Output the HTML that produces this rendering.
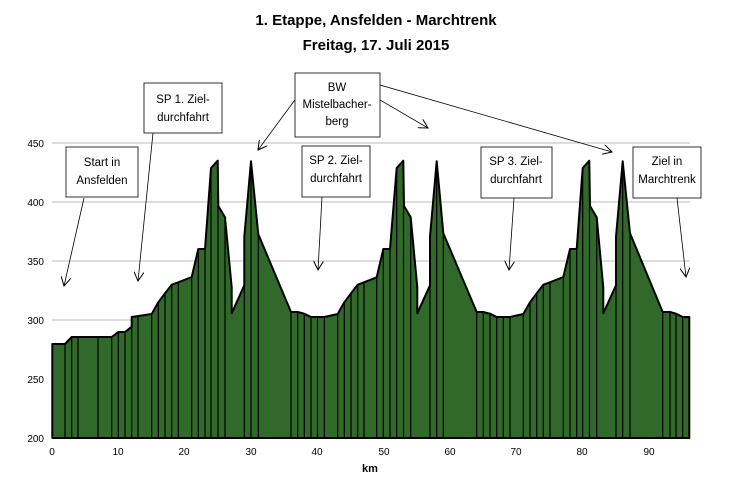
<!DOCTYPE html>
<html><head><meta charset="utf-8"><style>body{margin:0;background:#fff}svg{display:block}</style></head><body>
<svg width="752" height="481" viewBox="0 0 752 481" font-family="Liberation Sans, sans-serif">
<defs><marker id="a" markerWidth="10" markerHeight="10" refX="9" refY="5" orient="auto" markerUnits="userSpaceOnUse"><path d="M0,0 L9,5 L0,10" fill="none" stroke="#000" stroke-width="1"/></marker></defs>
<text x="376" y="25" font-size="15" font-weight="bold" text-anchor="middle">1. Etappe, Ansfelden - Marchtrenk</text>
<text x="376" y="50" font-size="15" font-weight="bold" text-anchor="middle">Freitag, 17. Juli 2015</text>
<g stroke="#bbb" stroke-width="1">
<line x1="52" y1="143" x2="690" y2="143"/><line x1="52" y1="202" x2="690" y2="202"/><line x1="52" y1="261" x2="690" y2="261"/><line x1="52" y1="320" x2="690" y2="320"/><line x1="52" y1="379" x2="690" y2="379"/>
</g>
<g font-size="10" text-anchor="end">
<text x="44" y="147">450</text><text x="44" y="206">400</text><text x="44" y="265">350</text><text x="44" y="324">300</text><text x="44" y="383">250</text><text x="44" y="442">200</text>
</g>
<g font-size="10" text-anchor="middle">
<text x="52" y="455">0</text><text x="118" y="455">10</text><text x="184" y="455">20</text><text x="251" y="455">30</text><text x="317" y="455">40</text><text x="384" y="455">50</text><text x="450" y="455">60</text><text x="516" y="455">70</text><text x="582" y="455">80</text><text x="649" y="455">90</text>
</g>
<text x="370" y="472" font-size="11" font-weight="bold" text-anchor="middle">km</text>
<path id="p" d="M52.3,438 L52.3,344 L65,344 L71.7,337 L111.7,337 L118.3,332 L125,332 L131.7,326.7 L131.7,317 L151.7,314 L158.3,302.3 L165,293.3 L171.7,284.7 L178.3,282.3 L191.7,277 L198.3,249 L205,249 L211,168 L217.7,160.7 L218.3,206 L225,217.3 L231.7,287.3 L231.7,313.3 L244.3,285.3 L244.3,236.7 L251,161.3 L258.3,234.3 L291,312 L297.7,312 L304.3,313.7 L311,317 L324.3,317 L337.7,314 L344.3,302.3 L351,293.3 L357.7,284.7 L364,282.3 L376.7,277.3 L383.3,249 L390,249 L396.7,168 L403.3,160.7 L404,206 L410.7,217.3 L417.3,287.3 L417.3,313.3 L430,285.3 L430,236.7 L436.7,161.3 L443.3,233.3 L476.7,312 L483.3,312 L490,313.7 L496.7,317 L510,317 L523.3,314 L530,302.3 L536.7,293.3 L543.3,284.7 L550,282.3 L563.3,277 L570,249 L576.7,249 L582.7,168 L589.3,160.7 L590,206 L596.7,217.3 L603.3,287.3 L603.3,313.3 L616,285.3 L616,236.7 L622.7,161.3 L630,233.3 L662.7,312 L670,312 L676,313.7 L682.7,317 L689.3,317 L689.3,438 Z" fill="#30692a" stroke="#000" stroke-width="2" stroke-linejoin="round"/>
<g stroke="#000" stroke-width="1.2">
<line x1="65" y1="344" x2="65" y2="438"/><line x1="71.7" y1="337" x2="71.7" y2="438"/><line x1="78" y1="337" x2="78" y2="438"/><line x1="98" y1="337" x2="98" y2="438"/><line x1="111.7" y1="337" x2="111.7" y2="438"/><line x1="118.3" y1="332" x2="118.3" y2="438"/><line x1="125" y1="332" x2="125" y2="438"/><line x1="131.7" y1="327" x2="131.7" y2="438"/><line x1="138" y1="316" x2="138" y2="438"/><line x1="151.7" y1="314" x2="151.7" y2="438"/><line x1="158.3" y1="302" x2="158.3" y2="438"/><line x1="165" y1="293" x2="165" y2="438"/><line x1="171.7" y1="285" x2="171.7" y2="438"/><line x1="178.3" y1="282" x2="178.3" y2="438"/><line x1="191.7" y1="277" x2="191.7" y2="438"/><line x1="198.3" y1="249" x2="198.3" y2="438"/><line x1="205" y1="249" x2="205" y2="438"/><line x1="211" y1="168" x2="211" y2="438"/><line x1="218" y1="170" x2="218" y2="438"/><line x1="225" y1="217" x2="225" y2="438"/><line x1="244.3" y1="237" x2="244.3" y2="438"/><line x1="251" y1="162" x2="251" y2="438"/><line x1="258.3" y1="234" x2="258.3" y2="438"/><line x1="291" y1="312" x2="291" y2="438"/><line x1="297.7" y1="312" x2="297.7" y2="438"/><line x1="304.3" y1="314" x2="304.3" y2="438"/><line x1="311" y1="317" x2="311" y2="438"/><line x1="317.5" y1="317" x2="317.5" y2="438"/><line x1="324.3" y1="317" x2="324.3" y2="438"/><line x1="337.7" y1="314" x2="337.7" y2="438"/><line x1="344.3" y1="302" x2="344.3" y2="438"/><line x1="351" y1="293" x2="351" y2="438"/><line x1="357.7" y1="285" x2="357.7" y2="438"/><line x1="364" y1="282" x2="364" y2="438"/><line x1="376.7" y1="277" x2="376.7" y2="438"/><line x1="383.3" y1="249" x2="383.3" y2="438"/><line x1="390" y1="249" x2="390" y2="438"/><line x1="396.7" y1="168" x2="396.7" y2="438"/><line x1="403.5" y1="170" x2="403.5" y2="438"/><line x1="410.7" y1="217" x2="410.7" y2="438"/><line x1="430" y1="237" x2="430" y2="438"/><line x1="436.7" y1="162" x2="436.7" y2="438"/><line x1="443.3" y1="233" x2="443.3" y2="438"/><line x1="476.7" y1="312" x2="476.7" y2="438"/><line x1="483.3" y1="312" x2="483.3" y2="438"/><line x1="490" y1="314" x2="490" y2="438"/><line x1="496.7" y1="317" x2="496.7" y2="438"/><line x1="503.3" y1="317" x2="503.3" y2="438"/><line x1="510" y1="317" x2="510" y2="438"/><line x1="523.3" y1="314" x2="523.3" y2="438"/><line x1="530" y1="302" x2="530" y2="438"/><line x1="536.7" y1="293" x2="536.7" y2="438"/><line x1="543.3" y1="285" x2="543.3" y2="438"/><line x1="550" y1="282" x2="550" y2="438"/><line x1="563.3" y1="277" x2="563.3" y2="438"/><line x1="570" y1="249" x2="570" y2="438"/><line x1="576.7" y1="249" x2="576.7" y2="438"/><line x1="582.7" y1="168" x2="582.7" y2="438"/><line x1="589.5" y1="170" x2="589.5" y2="438"/><line x1="596.7" y1="217" x2="596.7" y2="438"/><line x1="616" y1="237" x2="616" y2="438"/><line x1="622.7" y1="162" x2="622.7" y2="438"/><line x1="630" y1="233" x2="630" y2="438"/><line x1="662.7" y1="312" x2="662.7" y2="438"/><line x1="670" y1="312" x2="670" y2="438"/><line x1="676" y1="314" x2="676" y2="438"/><line x1="682.7" y1="317" x2="682.7" y2="438"/>
</g>
<line x1="52" y1="438" x2="690" y2="438" stroke="#000" stroke-width="2"/>
<g stroke="#000" stroke-width="0.8" fill="none" marker-end="url(#a)">
<line x1="84" y1="198" x2="64" y2="286"/><line x1="153" y1="133" x2="138" y2="281"/>
<line x1="300" y1="93" x2="258" y2="150"/><line x1="380" y1="100" x2="428" y2="128"/><line x1="380" y1="85" x2="612" y2="152"/>
<line x1="322" y1="197" x2="318" y2="270"/><line x1="514" y1="198" x2="509" y2="270"/><line x1="677" y1="198" x2="686" y2="277"/>
</g>
<g fill="#fff" stroke="#000" stroke-width="0.8">
<rect x="66" y="147" width="72" height="50"/><rect x="144" y="83" width="78" height="50"/><rect x="295" y="73" width="85" height="64"/><rect x="302" y="146" width="68" height="51"/><rect x="481" y="147" width="71" height="51"/><rect x="633" y="147" width="68" height="51"/>
</g>
<g font-size="11.5" text-anchor="middle">
<text x="102" y="166">Start in</text><text x="102" y="184">Ansfelden</text>
<text x="183" y="103">SP 1. Ziel-</text><text x="183" y="121">durchfahrt</text>
<text x="337" y="91">BW</text><text x="337" y="108">Mistelbacher-</text><text x="337" y="125">berg</text>
<text x="336" y="164">SP 2. Ziel-</text><text x="336" y="182">durchfahrt</text>
<text x="516" y="165">SP 3. Ziel-</text><text x="516" y="183">durchfahrt</text>
<text x="667" y="165">Ziel in</text><text x="667" y="183">Marchtrenk</text>
</g>
</svg>
</body></html>
